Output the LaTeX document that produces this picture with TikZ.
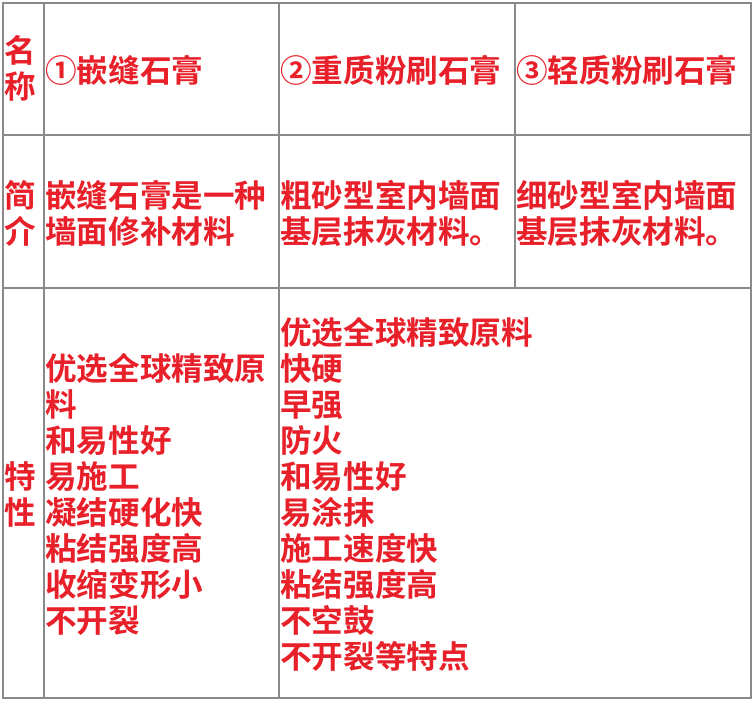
\documentclass[tikz,border=0pt]{standalone}
\usepackage{fontspec}
\setmainfont{Noto Sans CJK SC Bold}
\definecolor{txt}{HTML}{E8202A}
\definecolor{grid}{HTML}{8A8A8A}
\begin{document}
\begin{tikzpicture}[x=1pt,y=-1pt,
  t/.style={anchor=west,inner sep=0pt,align=left,text=txt,font=\fontsize{31.6}{36}\selectfont},
  g/.style={draw=grid,line width=2pt}]
\useasboundingbox (0,0) rectangle (754,701);
\draw[g] (3,3) rectangle (751,698);
\draw[g] (3,135) -- (751,135);
\draw[g] (3,288) -- (751,288);
\draw[g] (44,3) -- (44,698);
\draw[g] (279,3) -- (279,698);
\draw[g] (515,3) -- (515,288);
\node[t] (n0) at (4,68.5) {名\\称};
\node[t] (n1) at (45,70) {①嵌缝石膏};
\node[t] (n2) at (280,70) {②重质粉刷石膏};
\node[t] (n3) at (516,70) {③轻质粉刷石膏};
\node[t] (j0) at (4,213.5) {简\\介};
\node[t] (j1) at (45,213.5) {嵌缝石膏是一种\\墙面修补材料};
\node[t] (j2) at (280,213.5) {粗砂型室内墙面\\基层抹灰材料。};
\node[t] (j3) at (516,213.5) {细砂型室内墙面\\基层抹灰材料。};
\node[t] (k0) at (4,494.5) {特\\性};
\node[t] (k1) at (45,494.5) {优选全球精致原\\料\\和易性好\\易施工\\凝结硬化快\\粘结强度高\\收缩变形小\\不开裂};
\node[t] (k2) at (280,494.5) {优选全球精致原料\\快硬\\早强\\防火\\和易性好\\易涂抹\\施工速度快\\粘结强度高\\不空鼓\\不开裂等特点};
\end{tikzpicture}
\end{document}
